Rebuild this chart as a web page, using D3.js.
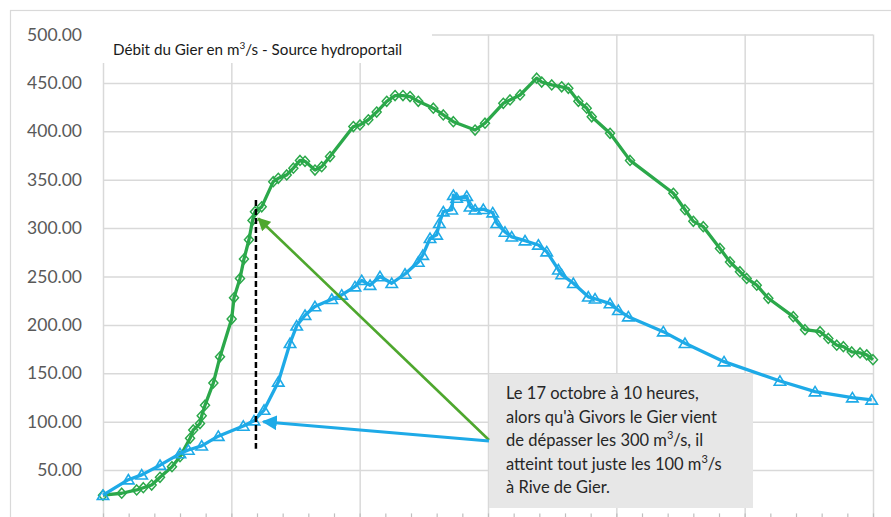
<!DOCTYPE html>
<html>
<head>
<meta charset="utf-8">
<script src="https://cdn.jsdelivr.net/npm/d3@7"></script>
<style>
  html, body { margin: 0; padding: 0; background: #fff; }
  svg { display: block; }
</style>
</head>
<body>
<svg id="chart" width="891" height="517"></svg>
<script>
// ---- Data (hours since start of record, discharge in m3/s) ----
const givorsHours = [0, 1.75, 3.15, 3.77, 4.55, 5.33, 6.45, 7.2, 8.14, 8.44, 9.07, 9.23, 9.54, 10.32, 10.94, 12.03, 12.25, 12.81, 13.18, 13.65, 13.98, 14.21, 14.84, 15.92, 16.39, 17.18, 17.8, 18.42, 18.89, 19.82, 20.45, 21.23, 23.41, 24.03, 24.81, 25.59, 26.53, 27.31, 28.05, 28.71, 29.48, 30.89, 31.82, 32.76, 34.79, 35.72, 37.43, 38.06, 39.0, 40.55, 41.02, 41.96, 42.89, 43.51, 44.45, 45.23, 45.7, 47.41, 49.28, 53.33, 54.42, 55.2, 56.13, 57.69, 58.63, 59.56, 60.19, 61.13, 62.21, 64.55, 65.64, 67.05, 67.82, 68.61, 69.23, 70.01, 70.79, 71.41, 72.0];
const givorsFlow = [24, 26, 29.4, 31.7, 34.5, 42.5, 53.4, 63.8, 82.8, 91.4, 98, 106, 117, 140, 167, 206, 228, 248, 268, 288, 308, 317, 322, 348, 351.5, 355, 362, 370, 369, 360, 363.5, 374, 405, 406.6, 412, 420, 431, 437, 437, 436, 431, 424, 417, 410, 401.4, 408.4, 429, 432.5, 437.6, 455, 451, 448, 446, 444.5, 431, 424, 415, 398, 370, 336, 319, 307, 301.5, 279, 265, 255, 248, 241, 227.5, 208.5, 195, 193, 186, 179, 177.5, 172, 171, 169, 164];

const riveHours = [0, 2.37, 3.62, 5.33, 7.2, 7.98, 9.23, 10.78, 13.12, 14.12, 15.06, 16.39, 17.49, 18.11, 18.89, 19.82, 21.39, 22.32, 23.56, 24.19, 24.97, 25.9, 27.0, 28.24, 29.48, 29.9, 30.58, 31.2, 31.45, 31.82, 32.61, 32.76, 33.07, 34.01, 34.32, 34.79, 35.56, 36.44, 36.82, 37.59, 38.22, 39.46, 40.71, 41.49, 42.58, 42.89, 43.98, 45.38, 46.01, 47.41, 48.19, 49.12, 52.39, 54.42, 58.07, 63.3, 66.58, 70.07, 71.88];
const riveFlow = [24, 40, 45, 55, 67, 70.7, 75, 85, 95.5, 101, 112, 141, 181, 199, 210, 219, 226.5, 231, 239.5, 246, 241, 250, 243, 252.6, 265, 272, 289.5, 293, 305, 317, 319, 334, 331, 333, 322, 319, 319.5, 316, 305, 296, 291, 287, 282.6, 275.7, 257, 252, 243, 229, 227, 222, 215, 208.5, 193, 181, 162, 142, 131, 124.8, 122.4];

const yTicks = [50, 100, 150, 200, 250, 300, 350, 400, 450, 500];
const titleText = ["Débit du Gier en m", "3", "/s - Source hydroportail"];
const noteLines = [
  [["Le 17 octobre à 10 heures,"]],
  [["alors qu'à Givors le Gier vient"]],
  [["de dépasser les 300 m"], ["3", true], ["/s, il"]],
  [["atteint tout juste les 100 m"], ["3", true], ["/s"]],
  [["à Rive de Gier."]]
];
// annotation anchors in data units
const markTime = 14.3;          // 17 octobre 10h
const givorsAt = [14.52, 310];
const riveAt = [14.99, 100];

// ---- Layout ----
const svg = d3.select("#chart");
const FONT = "Lato, 'Open Sans', sans-serif";
const x = d3.scaleLinear().domain([0, 72]).range([103, 873]);
const y = d3.scaleLinear().domain([0, 500]).range([518.4, 34.6]);
const green = "#2ba84a", blue = "#1eaae7", arrowGreen = "#4ea72e";

// outer frame
svg.append("rect").attr("x", 10.5).attr("y", 10.5).attr("width", 895).attr("height", 520)
  .attr("fill", "#fff").attr("stroke", "#d9d9d9").attr("stroke-width", 1.2);

// horizontal gridlines
svg.append("g").attr("transform", "translate(103,0)")
  .call(d3.axisLeft(y).tickValues(yTicks).tickSize(-770).tickFormat(""))
  .call(g => g.select(".domain").remove())
  .call(g => g.selectAll("line").attr("stroke", "#d9d9d9").attr("stroke-width", 1.5));

// vertical gridlines (12 h)
svg.append("g").attr("transform", `translate(0,${y(0)})`)
  .call(d3.axisBottom(x).tickValues(d3.range(0, 73, 12)).tickSize(-(y(0) - y(500))).tickFormat(""))
  .call(g => g.select(".domain").remove())
  .call(g => g.selectAll("line").attr("stroke", "#d9d9d9").attr("stroke-width", 1.5));

// x axis with minor ticks
svg.append("g").attr("transform", `translate(0,${y(0)})`)
  .call(d3.axisBottom(x).tickValues(d3.range(0, 72.01, 2.4)).tickSize(5).tickFormat(""))
  .call(g => g.selectAll("line").attr("stroke", "#bfbfbf").attr("stroke-width", 1.2).attr("y1", 0).attr("y2", -5))
  .call(g => g.select(".domain").attr("stroke", "#bfbfbf"));

// y labels
svg.append("g").attr("transform", "translate(103,0)")
  .call(d3.axisLeft(y).tickValues(yTicks).tickSize(0).tickPadding(21).tickFormat(d3.format(".2f")))
  .call(g => g.select(".domain").remove())
  .call(g => g.selectAll("text").attr("font-family", FONT).attr("font-size", 17.5).attr("fill", "#595959"));

// title with white background
svg.append("rect").attr("x", 96).attr("y", 24).attr("width", 336).attr("height", 39).attr("fill", "#fff");
const title = svg.append("text").attr("x", 113).attr("y", 55)
  .attr("font-family", FONT).attr("font-size", 15.2).attr("fill", "#1a1a1a");
title.append("tspan").text(titleText[0]);
title.append("tspan").attr("dy", -6).attr("font-size", 10).text(titleText[1]);
title.append("tspan").attr("dy", 6).text(titleText[2]);

// series
const line = d3.line().x(d => x(d[0])).y(d => y(d[1]));
const givors = givorsHours.map((h, i) => [h, givorsFlow[i]]);
const rive = riveHours.map((h, i) => [h, riveFlow[i]]);

svg.append("path").datum(givors).attr("d", line).attr("fill", "none")
  .attr("stroke", green).attr("stroke-width", 3.3).attr("stroke-linejoin", "round");
svg.append("g").selectAll("path").data(givors).join("path")
  .attr("transform", d => `translate(${x(d[0])},${y(d[1])})`)
  .attr("d", "M0,-5L4.5,0L0,5L-4.5,0Z")
  .attr("fill", "none").attr("stroke", green).attr("stroke-width", 1.5);

svg.append("path").datum(rive).attr("d", line).attr("fill", "none")
  .attr("stroke", blue).attr("stroke-width", 3.3).attr("stroke-linejoin", "round");
svg.append("g").selectAll("path").data(rive).join("path")
  .attr("transform", d => `translate(${x(d[0])},${y(d[1])})`)
  .attr("d", "M0,-5.2L5.7,4.2L-5.7,4.2Z")
  .attr("fill", "none").attr("stroke", blue).attr("stroke-width", 1.6);

// dashed marker line
svg.append("line").attr("x1", x(markTime)).attr("x2", x(markTime))
  .attr("y1", y(329)).attr("y2", y(72))
  .attr("stroke", "#000").attr("stroke-width", 2.5).attr("stroke-dasharray", "6,3");

// annotation box
const box = { x: 489, y: 374, w: 264, h: 134 };
svg.append("rect").attr("x", box.x).attr("y", box.y).attr("width", box.w).attr("height", box.h)
  .attr("fill", "#e7e7e7");

// arrows
const defs = svg.append("defs");
function marker(id, color) {
  defs.append("marker").attr("id", id).attr("viewBox", "0 0 10 10")
    .attr("refX", 9).attr("refY", 5).attr("markerWidth", 5).attr("markerHeight", 5)
    .attr("markerUnits", "strokeWidth").attr("orient", "auto")
    .append("path").attr("d", "M0,0L10,5L0,10Z").attr("fill", color);
}
marker("ag", arrowGreen);
marker("ab", blue);
svg.append("line").attr("x1", box.x).attr("y1", 440).attr("x2", x(givorsAt[0])).attr("y2", y(givorsAt[1]))
  .attr("stroke", arrowGreen).attr("stroke-width", 2.6).attr("marker-end", "url(#ag)");
svg.append("line").attr("x1", box.x).attr("y1", 441).attr("x2", x(riveAt[0])).attr("y2", y(riveAt[1]))
  .attr("stroke", blue).attr("stroke-width", 3).attr("marker-end", "url(#ab)");

// annotation text
const note = svg.append("g").attr("font-family", FONT).attr("font-size", 16.5).attr("fill", "#262626");
noteLines.forEach((parts, i) => {
  const t = note.append("text").attr("x", 506).attr("y", 399 + i * 23.5);
  parts.forEach(p => {
    if (p[1]) t.append("tspan").attr("dy", -7).attr("font-size", 11).text(p[0]);
    else {
      const ts = t.append("tspan").text(p[0]);
      if (t.selectAll("tspan").size() > 1) ts.attr("dy", 7);
    }
  });
});
</script>
</body>
</html>
